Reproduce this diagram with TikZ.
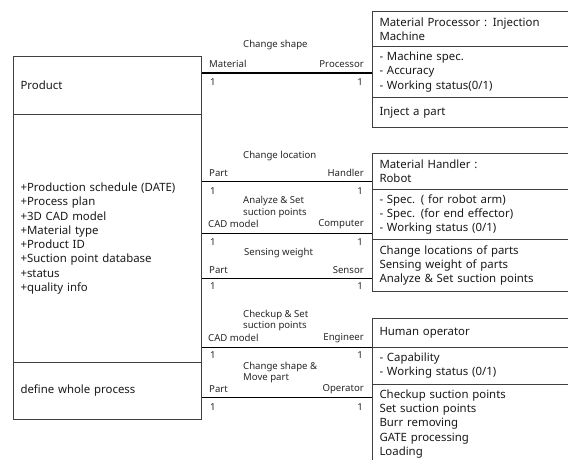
\documentclass[tikz,border=0pt]{standalone}
\usepackage{fontspec}
\setmainfont{Noto Sans}
\newcommand{\mainfs}{\fontsize{11.4}{14.3}\selectfont}
\newcommand{\labfs}{\fontsize{9.6}{11.5}\selectfont}
\begin{document}
\begin{tikzpicture}[x=1pt,y=-1pt,
  comp/.style={draw=black!75, line width=1pt, anchor=north west, inner xsep=7pt, inner ysep=0pt, align=left, font=\mainfs, text=black!90},
  lbox/.style={comp, minimum width=188pt, text width=174pt},
  rbox/.style={comp, minimum width=203pt, text width=189pt},
  conn/.style={line width=1.1pt, black},
  lab/.style={font=\labfs, inner sep=0pt, text=black!85, align=left},
  role/.style={lab, anchor=west},
  rolee/.style={lab, anchor=east},
]
\useasboundingbox (0,0) rectangle (568,460);
\clip (0,0) rectangle (568,460);
% Product class
\node[lbox, minimum height=58.3pt] (prodName) at (13,55.7) {Product};
\node[lbox, minimum height=248pt] (prodAttr) at (13,114) {+Production schedule (DATE)\\+Process plan\\+3D CAD model\\+Material type\\+Product ID\\+Suction point database\\+status\\+quality info};
\node[lbox, minimum height=57pt] (prodOps) at (13,362) {define whole process};
% Material Processor
\node[rbox, minimum height=35pt] (procName) at (372,11) {Material Processor : Injection\\Machine};
\node[rbox, minimum height=50.7pt] (procAttr) at (372,46) {- Machine spec.\\- Accuracy\\- Working status(0/1)};
\node[rbox, minimum height=30.3pt] (procOps) at (372,96.7) {Inject a part};
% Material Handler
\node[rbox, minimum height=36pt] (handName) at (372,153) {Material Handler :\\Robot};
\node[rbox, minimum height=50pt] (handAttr) at (372,189) {- Spec. ( for robot arm)\\- Spec. (for end effector)\\- Working status (0/1)};
\node[rbox, minimum height=51.7pt] (handOps) at (372,239) {Change locations of parts\\Sensing weight of parts\\Analyze \& Set suction points};
% Human operator
\node[rbox, minimum height=28.7pt] (humName) at (372,318) {Human operator};
\node[rbox, minimum height=37.3pt] (humAttr) at (372,346.7) {- Capability\\- Working status (0/1)};
\node[rbox, minimum height=79pt] (humOps) at (372,384) {Checkup suction points\\Set suction points\\Burr removing\\GATE processing\\Loading};
% connectors
\draw[conn] (prodName.east |- 0,73) -- (procAttr.west |- 0,73);
\draw[conn] (prodAttr.east |- 0,181.7) -- (handName.west |- 0,181.7);
\draw[conn] (prodAttr.east |- 0,233.3) -- (handAttr.west |- 0,233.3);
\draw[conn] (prodAttr.east |- 0,278.3) -- (handOps.west |- 0,278.3);
\draw[conn] (prodAttr.east |- 0,347.3) -- (humAttr.west |- 0,347.3);
\draw[conn] (prodOps.east |- 0,397.3) -- (humOps.west |- 0,397.3);
% labels connector 1
\node[role] (l1n) at (243,45) {Change shape};
\node[role] (l1a) at (209,64) {Material};
\node[rolee] (l1b) at (364,64) {Processor};
\node[role] (l1c) at (210,82) {1};
\node[rolee] (l1d) at (363,82) {1};
% connector 2
\node[role] (l2n) at (243,156) {Change location};
\node[role] (l2a) at (209,173) {Part};
\node[rolee] (l2b) at (364,173) {Handler};
\node[role] (l2c) at (210,190.7) {1};
\node[rolee] (l2d) at (363,190.7) {1};
% connector 3
\node[role] (l3n) at (243,207.2) {Analyze \& Set\\suction points};
\node[role] (l3a) at (208,224) {CAD model};
\node[rolee] (l3b) at (364,224) {Computer};
\node[role] (l3c) at (210,242) {1};
\node[rolee] (l3d) at (363,242) {1};
% connector 4
\node[role] (l4n) at (244,252.7) {Sensing weight};
\node[role] (l4a) at (209,270) {Part};
\node[rolee] (l4b) at (364,270) {Sensor};
\node[role] (l4c) at (210,286) {1};
\node[rolee] (l4d) at (363,286) {1};
% connector 5
\node[role] (l5n) at (243,320.5) {Checkup \& Set\\suction points};
\node[role] (l5a) at (208,338) {CAD model};
\node[rolee] (l5b) at (364,338) {Engineer};
\node[role] (l5c) at (210,355) {1};
\node[rolee] (l5d) at (363,355) {1};
% connector 6
\node[role] (l6n) at (243,372.5) {Change shape \&\\Move part};
\node[role] (l6a) at (209,389) {Part};
\node[rolee] (l6b) at (364,389) {Operator};
\node[role] (l6c) at (210,406.7) {1};
\node[rolee] (l6d) at (363,406.7) {1};
\end{tikzpicture}
\end{document}
